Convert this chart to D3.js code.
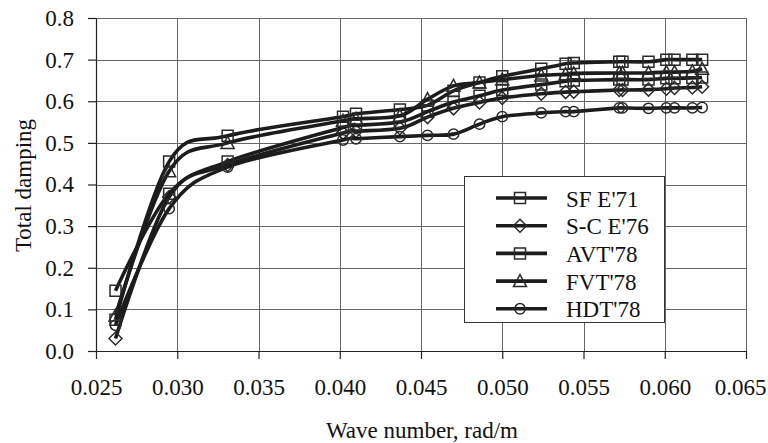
<!DOCTYPE html>
<html>
<head>
<meta charset="utf-8">
<script src="https://cdn.jsdelivr.net/npm/d3@7"></script>
<style>
  html, body { margin: 0; padding: 0; background: #fff; }
  svg { display: block; }
  text { font-family: "Liberation Serif", "Times New Roman", serif; fill: #111; }
</style>
</head>
<body>
<svg id="chart" width="768" height="443"></svg>
<script>
// ---- data ----
const waveNumber = [0.0262, 0.0295, 0.0331, 0.0402, 0.0410, 0.0437, 0.0454, 0.0470, 0.0486, 0.0500,
                    0.0524, 0.0539, 0.0544, 0.0572, 0.0574, 0.0590, 0.0601, 0.0606, 0.0617, 0.0623];
const seriesNames = ["SF E'71", "S-C E'76", "AVT'78", "FVT'78", "HDT'78"];
const seriesMarkers = ["square", "diamond", "square", "triangle", "circle"];
const sfE71  = [0.075, 0.455, 0.517, 0.563, 0.570, 0.580, 0.590, 0.625, 0.645, 0.660, 0.678, 0.690, 0.692, 0.695, 0.695, 0.695, 0.700, 0.700, 0.700, 0.700];
const scE76  = [0.030, 0.370, 0.447, 0.524, 0.528, 0.535, 0.562, 0.583, 0.597, 0.608, 0.618, 0.622, 0.623, 0.627, 0.627, 0.628, 0.630, 0.632, 0.633, 0.635];
const avt78  = [0.145, 0.378, 0.455, 0.537, 0.542, 0.550, 0.575, 0.598, 0.613, 0.627, 0.640, 0.648, 0.650, 0.652, 0.652, 0.652, 0.655, 0.655, 0.656, 0.657];
const fvt78  = [0.085, 0.432, 0.500, 0.553, 0.558, 0.565, 0.605, 0.637, 0.645, 0.652, 0.662, 0.665, 0.667, 0.668, 0.668, 0.668, 0.670, 0.670, 0.672, 0.678];
const hdt78  = [0.062, 0.342, 0.442, 0.507, 0.510, 0.515, 0.518, 0.521, 0.545, 0.563, 0.572, 0.575, 0.575, 0.584, 0.584, 0.583, 0.584, 0.584, 0.584, 0.585];
const seriesValues = [sfE71, scE76, avt78, fvt78, hdt78];
const xTicks = [0.025, 0.030, 0.035, 0.040, 0.045, 0.050, 0.055, 0.060, 0.065];
const yTicks = [0.0, 0.1, 0.2, 0.3, 0.4, 0.5, 0.6, 0.7, 0.8];
const xTitle = "Wave number, rad/m";
const yTitle = "Total damping";

// ---- layout ----
const svg = d3.select("#chart");
const plot = { left: 96, right: 746, top: 18, bottom: 351 };
const x = d3.scaleLinear().domain([0.025, 0.065]).range([plot.left, plot.right]);
const y = d3.scaleLinear().domain([0, 0.8]).range([plot.bottom, plot.top]);
const fontSize = 23;
const lineColor = "#1c1c1c";
const lineWidth = 3.6;

// grid
const grid = svg.append("g");
grid.selectAll("line.h").data(yTicks.slice(1)).join("line")
  .attr("x1", plot.left).attr("x2", plot.right)
  .attr("y1", d => Math.round(y(d)) + 0.5).attr("y2", d => Math.round(y(d)) + 0.5)
  .attr("stroke", "#666").attr("stroke-width", 1);
grid.selectAll("line.v").data(xTicks.slice(1)).join("line")
  .attr("y1", plot.top).attr("y2", plot.bottom)
  .attr("x1", d => Math.round(x(d)) + 0.5).attr("x2", d => Math.round(x(d)) + 0.5)
  .attr("stroke", "#666").attr("stroke-width", 1);

// axes
const xAxis = d3.axisBottom(x).tickValues(xTicks).tickFormat(d3.format(".3f")).tickSizeInner(8).tickSizeOuter(0);
const yAxis = d3.axisLeft(y).tickValues(yTicks).tickFormat(d3.format(".1f")).tickSizeInner(8).tickSizeOuter(0).tickPadding(14);
const gx = svg.append("g").attr("transform", `translate(0,${Math.round(y(0))})`).call(xAxis);
const gy = svg.append("g").attr("transform", `translate(${plot.left},0)`).call(yAxis);
gx.selectAll(".tick text").attr("y", 44).attr("dy", 0)
  .attr("x", (d, i, n) => i === n.length - 1 ? -6 : 0);
[gx, gy].forEach(g => {
  g.selectAll("path.domain").attr("stroke", "#222").attr("stroke-width", 1.2);
  g.selectAll(".tick line").attr("stroke", "#222").attr("stroke-width", 1.2);
  g.selectAll(".tick text").attr("font-size", fontSize).attr("font-family", "Liberation Serif, serif").attr("fill", "#111");
});

// titles
svg.append("text").attr("x", (plot.left + plot.right) / 2 + 1).attr("y", 438)
  .attr("text-anchor", "middle").attr("font-size", fontSize).text(xTitle);
svg.append("text").attr("transform", `translate(31,${(plot.top + plot.bottom) / 2 + 1}) rotate(-90)`)
  .attr("text-anchor", "middle").attr("font-size", fontSize).text(yTitle);

// markers
function markerPath(type) {
  const s = 5.5;
  if (type === "square") return `M${-s},${-s}H${s}V${s}H${-s}Z`;
  if (type === "diamond") return `M0,${-s - 1}L${s + 1},0L0,${s + 1}L${-s - 1},0Z`;
  if (type === "triangle") return `M0,${-s - 1}L${s + 1},${s}L${-s - 1},${s}Z`;
  return d3.arc()({ innerRadius: 0, outerRadius: s - 0.3, startAngle: 0, endAngle: 2 * Math.PI });
}

// lines
const line = d3.line().x(d => x(d[0])).y(d => y(d[1])).curve(d3.curveCatmullRom.alpha(0));
seriesValues.forEach((vals, i) => {
  const pts = waveNumber.map((w, j) => [w, vals[j]]);
  const g = svg.append("g");
  g.append("path").attr("d", line(pts)).attr("fill", "none")
    .attr("stroke", lineColor).attr("stroke-width", lineWidth).attr("stroke-linejoin", "round");
  g.selectAll("path.m").data(pts).join("path").attr("class", "m")
    .attr("transform", d => `translate(${x(d[0])},${y(d[1])})`)
    .attr("d", markerPath(seriesMarkers[i]))
    .attr("fill", "none").attr("stroke", "#2a2a2a").attr("stroke-width", 1.5);
});

// legend
const lg = svg.append("g");
lg.append("rect").attr("x", 464.5).attr("y", 176.5).attr("width", 200).attr("height", 146)
  .attr("fill", "#fff").attr("stroke", "#333").attr("stroke-width", 1);
seriesNames.forEach((name, i) => {
  const yy = 198 + i * 27.7;
  lg.append("line").attr("x1", 496).attr("x2", 547).attr("y1", yy).attr("y2", yy)
    .attr("stroke", lineColor).attr("stroke-width", lineWidth);
  lg.append("path").attr("transform", `translate(520,${yy})`).attr("d", markerPath(seriesMarkers[i]))
    .attr("fill", "none").attr("stroke", "#2a2a2a").attr("stroke-width", 1.5);
  lg.append("text").attr("x", 566).attr("y", yy + 8.5).attr("font-size", fontSize).text(name);
});
</script>
</body>
</html>
